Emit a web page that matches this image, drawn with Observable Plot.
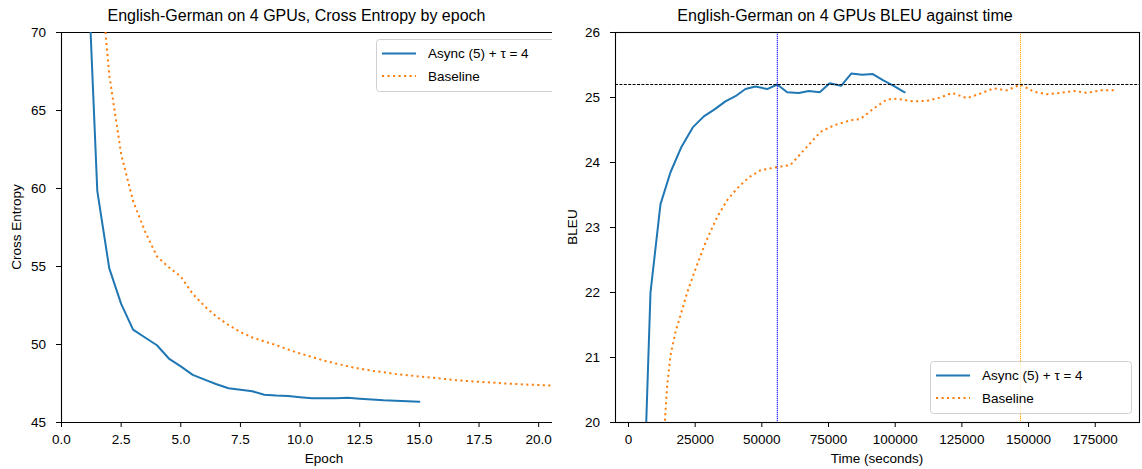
<!DOCTYPE html>
<html>
<head>
<meta charset="utf-8">
<script src="https://cdn.jsdelivr.net/npm/d3@7"></script>
<script src="https://cdn.jsdelivr.net/npm/@observablehq/plot@0.6"></script>
<style>
  html, body { margin: 0; padding: 0; background: #fff; }
  #wrap { position: relative; width: 1142px; height: 469px; overflow: hidden; font-family: "Liberation Sans", Arial, Helvetica, sans-serif; }
  .panel { position: absolute; top: 0; }
  #overlay { position: absolute; left: 0; top: 0; pointer-events: none; }
</style>
</head>
<body>
<div id="wrap">
  <div id="leftPanel" class="panel" style="left:0px"></div>
  <div id="rightPanel" class="panel" style="left:560px"></div>
  <svg id="overlay" width="1142" height="469"></svg>
</div>
<script>
// ---------- Data ----------
const seriesNames = ["Async (5) + τ = 4", "Baseline"];
const seriesColors = ["#1f77b4", "#ff7f0e"];

// Left panel: cross entropy by epoch
const asyncEpoch = [1.0, 1.5, 2.0, 2.5, 3.0, 3.5, 4.0, 4.5, 5.0, 5.5, 6.0, 6.5, 7.0, 7.5, 8.0, 8.5, 9.0, 9.5, 10.0, 10.5, 11.0, 11.5, 12.0, 12.5, 13.0, 13.5, 14.0, 14.5, 15.0];
const asyncCE = [78.0, 59.85, 54.9, 52.6, 50.95, 50.45, 49.95, 49.1, 48.6, 48.05, 47.75, 47.45, 47.2, 47.1, 47.0, 46.78, 46.73, 46.7, 46.62, 46.55, 46.55, 46.56, 46.58, 46.53, 46.47, 46.42, 46.4, 46.37, 46.33];
const baseEpoch = [1.5, 2.0, 2.5, 3.0, 3.5, 4.0, 4.5, 5.0, 5.5, 6.0, 6.5, 7.0, 7.5, 8.0, 8.5, 9.0, 9.5, 10.0, 10.5, 11.0, 11.5, 12.0, 12.5, 13.0, 13.5, 14.0, 14.5, 15.0, 15.5, 16.0, 16.5, 17.0, 17.5, 18.0, 18.5, 19.0, 19.5, 20.0, 20.5, 21.0];
const baseCE = [76.0, 67.3, 62.2, 59.2, 57.25, 55.65, 54.95, 54.35, 53.25, 52.45, 51.78, 51.25, 50.8, 50.45, 50.2, 49.96, 49.68, 49.42, 49.2, 48.97, 48.78, 48.6, 48.45, 48.32, 48.22, 48.11, 48.03, 47.95, 47.88, 47.8, 47.72, 47.66, 47.61, 47.56, 47.51, 47.47, 47.43, 47.4, 47.37, 47.35];
const epochTicks = [0, 2.5, 5, 7.5, 10, 12.5, 15, 17.5, 20];
const ceTicks = [45, 50, 55, 60, 65, 70];
const epochDomain = [0, 20.58];
const ceDomain = [45, 70];

// Right panel: BLEU against time (seconds)
const asyncTime = [4500, 8250, 12000, 15750, 19850, 24100, 28250, 32000, 36350, 40100, 43850, 47600, 52000, 55800, 59500, 63850, 67600, 71700, 75450, 79700, 83600, 87600, 91600, 95700, 99450, 103550];
const asyncBleu = [17.3, 22.0, 23.36, 23.85, 24.24, 24.54, 24.71, 24.81, 24.94, 25.02, 25.13, 25.17, 25.13, 25.2, 25.08, 25.07, 25.1, 25.08, 25.22, 25.18, 25.37, 25.35, 25.36, 25.26, 25.18, 25.08];
const baseTime = [10500, 14500, 15750, 17600, 19500, 22000, 25100, 28900, 33200, 37000, 40700, 45100, 49500, 55700, 60700, 65100, 72000, 76900, 83200, 87000, 91900, 96900, 100700, 106900, 111900, 116900, 121300, 126900, 131900, 136900, 141900, 147000, 151900, 156900, 161900, 166900, 171900, 176900, 182500];
const baseBleu = [18.0, 20.57, 21.03, 21.39, 21.65, 22.0, 22.36, 22.77, 23.16, 23.42, 23.6, 23.77, 23.88, 23.93, 23.96, 24.16, 24.47, 24.57, 24.65, 24.67, 24.83, 24.97, 24.98, 24.94, 24.95, 25.0, 25.07, 24.99, 25.06, 25.14, 25.11, 25.2, 25.09, 25.05, 25.07, 25.1, 25.07, 25.11, 25.11];
const timeTicks = [0, 25000, 50000, 75000, 100000, 125000, 150000, 175000];
const bleuTicks = [20, 21, 22, 23, 24, 25, 26];
const timeDomain = [-4870, 191600];
const bleuDomain = [20, 26];
const targetBleu = [25.2];
const asyncReachTime = [55800];
const baseReachTime = [147000];

// Text
const titles = ["English-German on 4 GPUs, Cross Entropy by epoch", "English-German on 4 GPUs BLEU against time"];
const xLabels = ["Epoch", "Time (seconds)"];
const yLabels = ["Cross Entropy", "BLEU"];

// ---------- Build tables ----------
const asyncLeft = asyncEpoch.map((e, i) => ({x: e, y: asyncCE[i]}));
const baseLeft = baseEpoch.map((e, i) => ({x: e, y: baseCE[i]}));
const asyncRight = asyncTime.map((t, i) => ({x: t, y: asyncBleu[i]}));
const baseRight = baseTime.map((t, i) => ({x: t, y: baseBleu[i]}));

const FONT = '"Liberation Sans", Arial, Helvetica, sans-serif';
const commonStyle = {fontSize: "13.5px", fontFamily: FONT, color: "black", background: "transparent", overflow: "visible"};
const dotted = {strokeDasharray: "2.1,3.4", strokeLinecap: "butt"};

const left = Plot.plot({
  width: 552, height: 469,
  marginLeft: 61, marginRight: 0, marginTop: 32, marginBottom: 47,
  style: commonStyle,
  x: {domain: epochDomain, ticks: epochTicks, tickFormat: d3.format(".1f"), tickSize: 5, tickPadding: 6.5, label: null},
  y: {domain: ceDomain, ticks: ceTicks, tickFormat: d => String(d), tickSize: 5, tickPadding: 10.5, label: null},
  marks: [
    Plot.ruleX([epochDomain[0]], {stroke: "black", strokeWidth: 1.1}),
    Plot.ruleY(ceDomain, {stroke: "black", strokeWidth: 1.1}),
    Plot.line(asyncLeft, {x: "x", y: "y", stroke: seriesColors[0], strokeWidth: 2, clip: true}),
    Plot.line(baseLeft, {x: "x", y: "y", stroke: seriesColors[1], strokeWidth: 2, clip: true, ...dotted})
  ]
});
document.getElementById("leftPanel").appendChild(left);

const right = Plot.plot({
  width: 582, height: 469,
  marginLeft: 55, marginRight: 3, marginTop: 32, marginBottom: 47,
  style: commonStyle,
  x: {domain: timeDomain, ticks: timeTicks, tickFormat: d => String(d), tickSize: 5, tickPadding: 6.5, label: null},
  y: {domain: bleuDomain, ticks: bleuTicks, tickFormat: d => String(d), tickSize: 5, tickPadding: 10.5, label: null},
  marks: [
    Plot.line(asyncRight, {x: "x", y: "y", stroke: seriesColors[0], strokeWidth: 2, clip: true}),
    Plot.line(baseRight, {x: "x", y: "y", stroke: seriesColors[1], strokeWidth: 2, clip: true, ...dotted}),
    Plot.ruleX(asyncReachTime, {stroke: "blue", strokeWidth: 1, strokeDasharray: "1.3,0.7"}),
    Plot.ruleX(baseReachTime, {stroke: "orange", strokeWidth: 1, strokeDasharray: "1.3,0.7"}),
    Plot.ruleY(targetBleu, {stroke: "black", strokeWidth: 1, strokeDasharray: "3,1.4"}),
    Plot.frame({stroke: "black", strokeWidth: 1.1})
  ]
});
document.getElementById("rightPanel").appendChild(right);

// ---------- Overlay text: titles, axis labels, legends ----------
const ov = d3.select("#overlay").style("font-family", FONT);
const defs = ov.append("defs");
defs.append("clipPath").attr("id", "leftClip").append("rect").attr("x", 0).attr("y", 0).attr("width", 552).attr("height", 469);

const titleX = [296.5, 845];
titles.forEach((t, i) => {
  ov.append("text").attr("x", titleX[i]).attr("y", 21).attr("text-anchor", "middle")
    .attr("font-size", 16).attr("fill", "black").text(t);
});
const xLabelX = [324, 877];
xLabels.forEach((t, i) => {
  ov.append("text").attr("x", xLabelX[i]).attr("y", 463).attr("text-anchor", "middle")
    .attr("font-size", 13.5).attr("fill", "black").text(t);
});
const yLabelX = [20.5, 577];
yLabels.forEach((t, i) => {
  ov.append("text").attr("transform", `translate(${yLabelX[i]},227) rotate(-90)`).attr("text-anchor", "middle")
    .attr("font-size", 13.5).attr("fill", "black").text(t);
});

function legend(g, x0, y0, w) {
  g.append("rect").attr("x", x0 + 0.5).attr("y", y0 + 0.5).attr("width", w).attr("height", 52)
    .attr("rx", 3).attr("fill", "white").attr("fill-opacity", 0.8).attr("stroke", "#d0d0d0").attr("stroke-width", 1);
  seriesNames.forEach((name, i) => {
    const yy = y0 + 14.5 + i * 22.6;
    const ln = g.append("line").attr("x1", x0 + 6).attr("x2", x0 + 40).attr("y1", yy).attr("y2", yy)
      .attr("stroke", seriesColors[i]).attr("stroke-width", 2);
    if (i === 1) ln.attr("stroke-dasharray", "2.1,3.4");
    g.append("text").attr("x", x0 + 52).attr("y", yy).attr("dy", "0.35em").attr("font-size", 13.5)
      .attr("fill", "black").text(name);
  });
}
legend(ov.append("g").attr("clip-path", "url(#leftClip)"), 376, 39, 220);
legend(ov.append("g"), 930, 361, 201);
</script>
</body>
</html>
